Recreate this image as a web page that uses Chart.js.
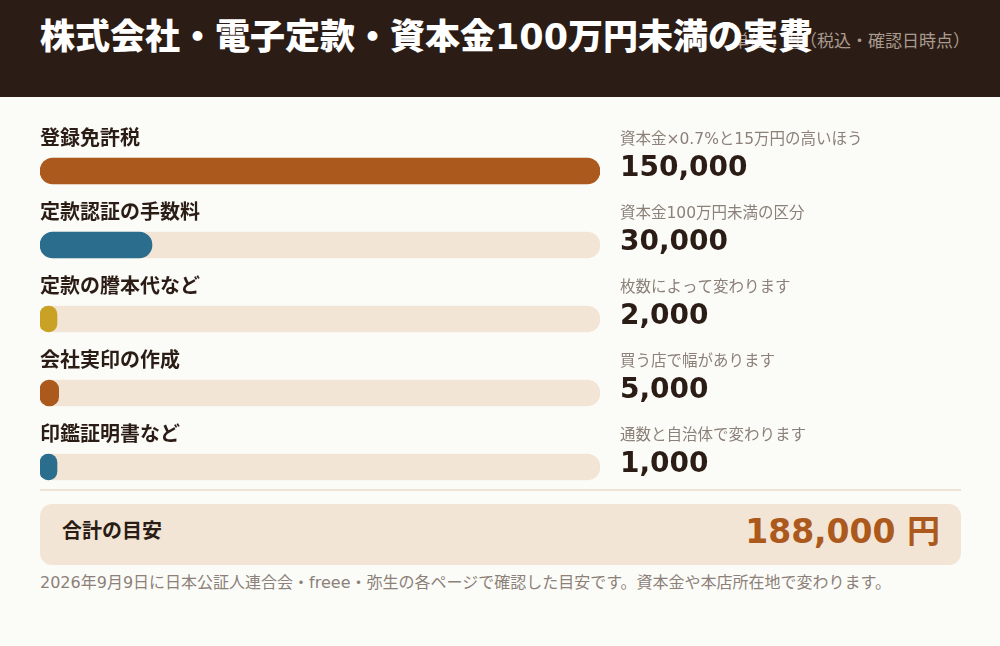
<!DOCTYPE html>
<html lang="ja">
<head>
<meta charset="utf-8">
<script src="https://cdn.jsdelivr.net/npm/chart.js@4.4.1/dist/chart.umd.min.js"></script>
<style>
  html, body { margin: 0; padding: 0; }
  body { width: 1000px; height: 646px; background: #fbfcf8; position: relative; overflow: hidden;
         font-family: "DejaVu Sans", "Noto Sans CJK JP", sans-serif; }
  #header { position: absolute; left: 0; top: 0; width: 1000px; height: 97px; background: #2b1d15; }
  #title { position: absolute; left: 40px; top: 37px; transform: translateY(-50%); color: #ffffff;
           font-size: 35px; font-weight: 900; white-space: nowrap; line-height: 1; }
  #unit { position: absolute; right: 30px; top: 41px; transform: translateY(-50%); color: #a99b90;
          font-size: 17px; white-space: nowrap; line-height: 1; }
  #sep { position: absolute; left: 40px; top: 489px; width: 921px; height: 2px; background: #efe3d3; }
  #total { position: absolute; left: 40px; top: 504px; width: 921px; height: 61px; background: #f3e5d5; border-radius: 12px; }
  #totalLabel { position: absolute; left: 22px; top: 27px; transform: translateY(-50%); color: #2b1d15;
                font-size: 20px; font-weight: 700; line-height: 1; white-space: nowrap; }
  #totalValue { position: absolute; right: 21px; top: 27px; transform: translateY(-50%); color: #ab591c;
                font-size: 33px; font-weight: 700; line-height: 1; white-space: nowrap; }
  #note { position: absolute; left: 40px; top: 583px; transform: translateY(-50%); color: #8c8079;
          font-size: 16px; line-height: 1; white-space: nowrap; }
  #wrap { position: absolute; left: 0; top: 0; width: 1000px; height: 646px; pointer-events: none; }
</style>
</head>
<body>
<div id="header">
  <div id="unit">単位：円（税込・確認日時点）</div>
  <div id="title">株式会社・電子定款・資本金100万円未満の実費</div>
</div>
<div id="sep"></div>
<div id="total">
  <div id="totalLabel">合計の目安</div>
  <div id="totalValue"></div>
</div>
<div id="note">2026年9月9日に日本公証人連合会・freee・弥生の各ページで確認した目安です。資本金や本店所在地で変わります。</div>
<div id="wrap"><canvas id="c" width="1000" height="646"></canvas></div>
<script>
const categories = ["登録免許税", "定款認証の手数料", "定款の謄本代など", "会社実印の作成", "印鑑証明書など"];
const values = [150000, 30000, 2000, 5000, 1000];
const notes = ["資本金×0.7%と15万円の高いほう", "資本金100万円未満の区分", "枚数によって変わります", "買う店で幅があります", "通数と自治体で変わります"];
const barColors = ["#ab591c", "#2b6d8c", "#c9a124", "#ab591c", "#2b6d8c"];
const axisMax = 150000;
const totalValue = 188000;

const trackValues = categories.map(() => axisMax);
document.getElementById('totalValue').textContent = totalValue.toLocaleString('en-US') + ' 円';

const minBarPlugin = {
  id: 'minBar',
  afterDatasetsUpdate(chart) {
    const meta = chart.getDatasetMeta(0);
    meta.data.forEach(el => {
      if (el.x - el.base < 17) el.x = el.base + 17;
    });
  }
};

const textPlugin = {
  id: 'texts',
  afterDatasetsDraw(chart) {
    const ctx = chart.ctx;
    const ys = chart.scales.y;
    const fam = '"DejaVu Sans", "Noto Sans CJK JP", sans-serif';
    ctx.save();
    ctx.textBaseline = 'middle';
    ctx.textAlign = 'left';
    categories.forEach((cat, i) => {
      const yc = ys.getPixelForValue(i);
      ctx.fillStyle = '#2b1d15';
      ctx.font = '700 20px ' + fam;
      ctx.fillText(cat, 40, yc - 31.5);
      ctx.fillStyle = '#8c8079';
      ctx.font = '400 15.5px ' + fam;
      ctx.fillText(notes[i], 620, yc - 31.5);
      ctx.fillStyle = '#2b1d15';
      ctx.font = '700 28px ' + fam;
      ctx.fillText(values[i].toLocaleString('en-US'), 620, yc - 2);
    });
    ctx.restore();
  }
};

new Chart(document.getElementById('c'), {
  type: 'bar',
  data: {
    labels: categories,
    datasets: [
      { data: values, backgroundColor: barColors, borderRadius: 13, borderSkipped: false,
        barThickness: 26, grouped: false, order: 0 },
      { data: trackValues, backgroundColor: '#f3e5d5', borderRadius: 13, borderSkipped: false,
        barThickness: 26, grouped: false, order: 1 }
    ]
  },
  options: {
    indexAxis: 'y',
    responsive: false,
    animation: false,
    events: [],
    layout: { padding: { left: 40, right: 400, top: 134, bottom: 142 } },
    scales: {
      x: { display: false, min: 0, max: axisMax },
      y: { display: false }
    },
    plugins: { legend: { display: false }, tooltip: { enabled: false } }
  },
  plugins: [minBarPlugin, textPlugin]
});
</script>
</body>
</html>
